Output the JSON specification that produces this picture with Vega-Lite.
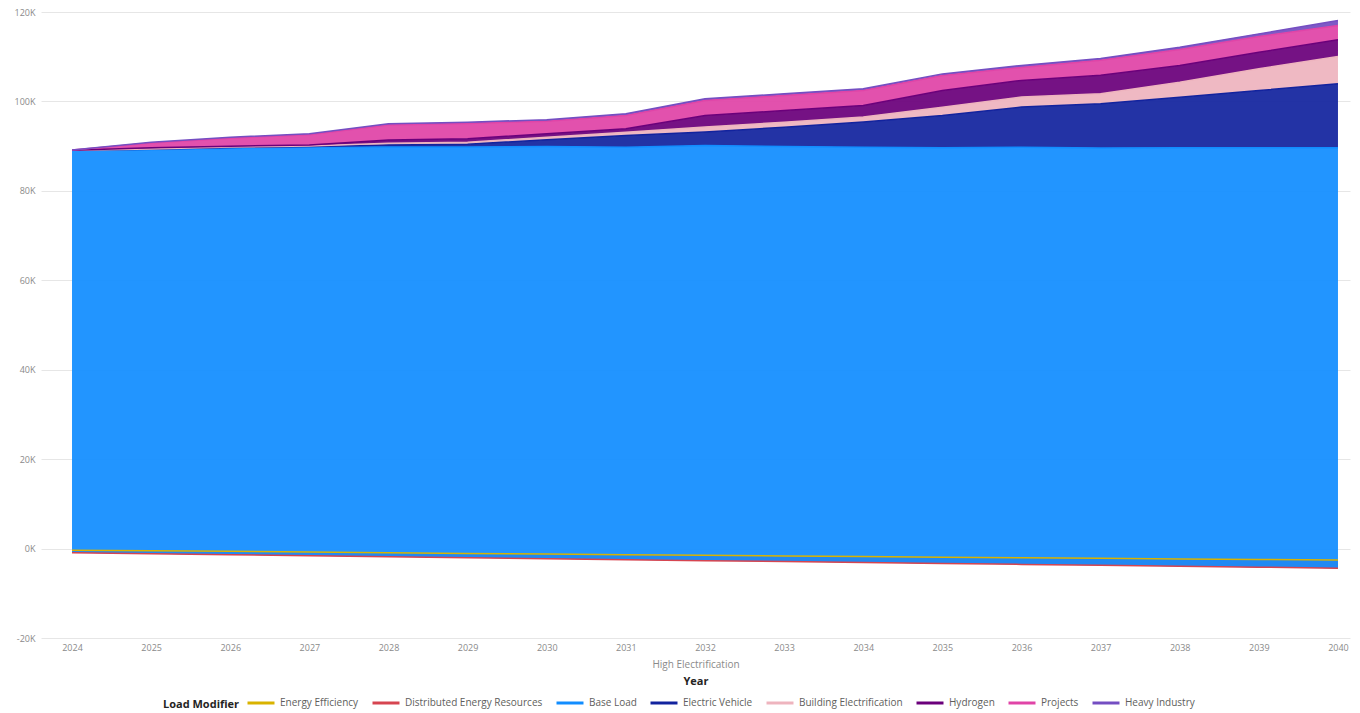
{
  "$schema": "https://vega.github.io/schema/vega-lite/v6.json",
  "width": 1309,
  "height": 626,
  "autosize": {"type": "none"},
  "padding": {"left": 41, "top": 12, "right": 10, "bottom": 75},
  "background": "#ffffff",
  "config": {
    "view": {"stroke": null},
    "font": "Open Sans"
  },
  "data": {
    "values": [
      {"Year": 2024, "Load Modifier": "Energy Efficiency", "Load": -350},
      {"Year": 2025, "Load Modifier": "Energy Efficiency", "Load": -490},
      {"Year": 2026, "Load Modifier": "Energy Efficiency", "Load": -620},
      {"Year": 2027, "Load Modifier": "Energy Efficiency", "Load": -770},
      {"Year": 2028, "Load Modifier": "Energy Efficiency", "Load": -930},
      {"Year": 2029, "Load Modifier": "Energy Efficiency", "Load": -1080},
      {"Year": 2030, "Load Modifier": "Energy Efficiency", "Load": -1220},
      {"Year": 2031, "Load Modifier": "Energy Efficiency", "Load": -1370},
      {"Year": 2032, "Load Modifier": "Energy Efficiency", "Load": -1500},
      {"Year": 2033, "Load Modifier": "Energy Efficiency", "Load": -1640},
      {"Year": 2034, "Load Modifier": "Energy Efficiency", "Load": -1780},
      {"Year": 2035, "Load Modifier": "Energy Efficiency", "Load": -1920},
      {"Year": 2036, "Load Modifier": "Energy Efficiency", "Load": -2050},
      {"Year": 2037, "Load Modifier": "Energy Efficiency", "Load": -2180},
      {"Year": 2038, "Load Modifier": "Energy Efficiency", "Load": -2320},
      {"Year": 2039, "Load Modifier": "Energy Efficiency", "Load": -2450},
      {"Year": 2040, "Load Modifier": "Energy Efficiency", "Load": -2580},

      {"Year": 2024, "Load Modifier": "Distributed Energy Resources", "Load": -600},
      {"Year": 2025, "Load Modifier": "Distributed Energy Resources", "Load": -680},
      {"Year": 2026, "Load Modifier": "Distributed Energy Resources", "Load": -760},
      {"Year": 2027, "Load Modifier": "Distributed Energy Resources", "Load": -830},
      {"Year": 2028, "Load Modifier": "Distributed Energy Resources", "Load": -910},
      {"Year": 2029, "Load Modifier": "Distributed Energy Resources", "Load": -970},
      {"Year": 2030, "Load Modifier": "Distributed Energy Resources", "Load": -1060},
      {"Year": 2031, "Load Modifier": "Distributed Energy Resources", "Load": -1120},
      {"Year": 2032, "Load Modifier": "Distributed Energy Resources", "Load": -1200},
      {"Year": 2033, "Load Modifier": "Distributed Energy Resources", "Load": -1270},
      {"Year": 2034, "Load Modifier": "Distributed Energy Resources", "Load": -1340},
      {"Year": 2035, "Load Modifier": "Distributed Energy Resources", "Load": -1420},
      {"Year": 2036, "Load Modifier": "Distributed Energy Resources", "Load": -1490},
      {"Year": 2037, "Load Modifier": "Distributed Energy Resources", "Load": -1570},
      {"Year": 2038, "Load Modifier": "Distributed Energy Resources", "Load": -1640},
      {"Year": 2039, "Load Modifier": "Distributed Energy Resources", "Load": -1720},
      {"Year": 2040, "Load Modifier": "Distributed Energy Resources", "Load": -1800},

      {"Year": 2024, "Load Modifier": "Base Load", "Load": 90040},
      {"Year": 2025, "Load Modifier": "Base Load", "Load": 90360},
      {"Year": 2026, "Load Modifier": "Base Load", "Load": 90930},
      {"Year": 2027, "Load Modifier": "Base Load", "Load": 91380},
      {"Year": 2028, "Load Modifier": "Base Load", "Load": 91660},
      {"Year": 2029, "Load Modifier": "Base Load", "Load": 91870},
      {"Year": 2030, "Load Modifier": "Base Load", "Load": 92210},
      {"Year": 2031, "Load Modifier": "Base Load", "Load": 92270},
      {"Year": 2032, "Load Modifier": "Base Load", "Load": 92860},
      {"Year": 2033, "Load Modifier": "Base Load", "Load": 92840},
      {"Year": 2034, "Load Modifier": "Base Load", "Load": 92900},
      {"Year": 2035, "Load Modifier": "Base Load", "Load": 92980},
      {"Year": 2036, "Load Modifier": "Base Load", "Load": 93320},
      {"Year": 2037, "Load Modifier": "Base Load", "Load": 93350},
      {"Year": 2038, "Load Modifier": "Base Load", "Load": 93600},
      {"Year": 2039, "Load Modifier": "Base Load", "Load": 93810},
      {"Year": 2040, "Load Modifier": "Base Load", "Load": 94020},

      {"Year": 2024, "Load Modifier": "Electric Vehicle", "Load": 0},
      {"Year": 2025, "Load Modifier": "Electric Vehicle", "Load": 100},
      {"Year": 2026, "Load Modifier": "Electric Vehicle", "Load": 160},
      {"Year": 2027, "Load Modifier": "Electric Vehicle", "Load": 160},
      {"Year": 2028, "Load Modifier": "Electric Vehicle", "Load": 450},
      {"Year": 2029, "Load Modifier": "Electric Vehicle", "Load": 600},
      {"Year": 2030, "Load Modifier": "Electric Vehicle", "Load": 1500},
      {"Year": 2031, "Load Modifier": "Electric Vehicle", "Load": 2600},
      {"Year": 2032, "Load Modifier": "Electric Vehicle", "Load": 2980},
      {"Year": 2033, "Load Modifier": "Electric Vehicle", "Load": 4320},
      {"Year": 2034, "Load Modifier": "Electric Vehicle", "Load": 5600},
      {"Year": 2035, "Load Modifier": "Electric Vehicle", "Load": 7200},
      {"Year": 2036, "Load Modifier": "Electric Vehicle", "Load": 8950},
      {"Year": 2037, "Load Modifier": "Electric Vehicle", "Load": 9900},
      {"Year": 2038, "Load Modifier": "Electric Vehicle", "Load": 11300},
      {"Year": 2039, "Load Modifier": "Electric Vehicle", "Load": 12800},
      {"Year": 2040, "Load Modifier": "Electric Vehicle", "Load": 14300},

      {"Year": 2024, "Load Modifier": "Building Electrification", "Load": 0},
      {"Year": 2025, "Load Modifier": "Building Electrification", "Load": 70},
      {"Year": 2026, "Load Modifier": "Building Electrification", "Load": 90},
      {"Year": 2027, "Load Modifier": "Building Electrification", "Load": 90},
      {"Year": 2028, "Load Modifier": "Building Electrification", "Load": 380},
      {"Year": 2029, "Load Modifier": "Building Electrification", "Load": 450},
      {"Year": 2030, "Load Modifier": "Building Electrification", "Load": 580},
      {"Year": 2031, "Load Modifier": "Building Electrification", "Load": 750},
      {"Year": 2032, "Load Modifier": "Building Electrification", "Load": 1120},
      {"Year": 2033, "Load Modifier": "Building Electrification", "Load": 1120},
      {"Year": 2034, "Load Modifier": "Building Electrification", "Load": 1120},
      {"Year": 2035, "Load Modifier": "Building Electrification", "Load": 1860},
      {"Year": 2036, "Load Modifier": "Building Electrification", "Load": 2240},
      {"Year": 2037, "Load Modifier": "Building Electrification", "Load": 2240},
      {"Year": 2038, "Load Modifier": "Building Electrification", "Load": 3360},
      {"Year": 2039, "Load Modifier": "Building Electrification", "Load": 4850},
      {"Year": 2040, "Load Modifier": "Building Electrification", "Load": 6100},

      {"Year": 2024, "Load Modifier": "Hydrogen", "Load": 0},
      {"Year": 2025, "Load Modifier": "Hydrogen", "Load": 270},
      {"Year": 2026, "Load Modifier": "Hydrogen", "Load": 200},
      {"Year": 2027, "Load Modifier": "Hydrogen", "Load": 220},
      {"Year": 2028, "Load Modifier": "Hydrogen", "Load": 740},
      {"Year": 2029, "Load Modifier": "Hydrogen", "Load": 800},
      {"Year": 2030, "Load Modifier": "Hydrogen", "Load": 760},
      {"Year": 2031, "Load Modifier": "Hydrogen", "Load": 750},
      {"Year": 2032, "Load Modifier": "Hydrogen", "Load": 2600},
      {"Year": 2033, "Load Modifier": "Hydrogen", "Load": 2600},
      {"Year": 2034, "Load Modifier": "Hydrogen", "Load": 2600},
      {"Year": 2035, "Load Modifier": "Hydrogen", "Load": 3730},
      {"Year": 2036, "Load Modifier": "Hydrogen", "Load": 3730},
      {"Year": 2037, "Load Modifier": "Hydrogen", "Load": 4100},
      {"Year": 2038, "Load Modifier": "Hydrogen", "Load": 3730},
      {"Year": 2039, "Load Modifier": "Hydrogen", "Load": 3710},
      {"Year": 2040, "Load Modifier": "Hydrogen", "Load": 3730},

      {"Year": 2024, "Load Modifier": "Projects", "Load": 40},
      {"Year": 2025, "Load Modifier": "Projects", "Load": 1070},
      {"Year": 2026, "Load Modifier": "Projects", "Load": 1790},
      {"Year": 2027, "Load Modifier": "Projects", "Load": 2300},
      {"Year": 2028, "Load Modifier": "Projects", "Load": 3360},
      {"Year": 2029, "Load Modifier": "Projects", "Load": 3400},
      {"Year": 2030, "Load Modifier": "Projects", "Load": 2820},
      {"Year": 2031, "Load Modifier": "Projects", "Load": 2980},
      {"Year": 2032, "Load Modifier": "Projects", "Load": 3360},
      {"Year": 2033, "Load Modifier": "Projects", "Load": 3360},
      {"Year": 2034, "Load Modifier": "Projects", "Load": 3360},
      {"Year": 2035, "Load Modifier": "Projects", "Load": 3360},
      {"Year": 2036, "Load Modifier": "Projects", "Load": 2900},
      {"Year": 2037, "Load Modifier": "Projects", "Load": 3360},
      {"Year": 2038, "Load Modifier": "Projects", "Load": 3580},
      {"Year": 2039, "Load Modifier": "Projects", "Load": 3510},
      {"Year": 2040, "Load Modifier": "Projects", "Load": 3200},

      {"Year": 2024, "Load Modifier": "Heavy Industry", "Load": 30},
      {"Year": 2025, "Load Modifier": "Heavy Industry", "Load": 180},
      {"Year": 2026, "Load Modifier": "Heavy Industry", "Load": 220},
      {"Year": 2027, "Load Modifier": "Heavy Industry", "Load": 220},
      {"Year": 2028, "Load Modifier": "Heavy Industry", "Load": 270},
      {"Year": 2029, "Load Modifier": "Heavy Industry", "Load": 300},
      {"Year": 2030, "Load Modifier": "Heavy Industry", "Load": 310},
      {"Year": 2031, "Load Modifier": "Heavy Industry", "Load": 370},
      {"Year": 2032, "Load Modifier": "Heavy Industry", "Load": 370},
      {"Year": 2033, "Load Modifier": "Heavy Industry", "Load": 370},
      {"Year": 2034, "Load Modifier": "Heavy Industry", "Load": 370},
      {"Year": 2035, "Load Modifier": "Heavy Industry", "Load": 370},
      {"Year": 2036, "Load Modifier": "Heavy Industry", "Load": 450},
      {"Year": 2037, "Load Modifier": "Heavy Industry", "Load": 380},
      {"Year": 2038, "Load Modifier": "Heavy Industry", "Load": 510},
      {"Year": 2039, "Load Modifier": "Heavy Industry", "Load": 600},
      {"Year": 2040, "Load Modifier": "Heavy Industry", "Load": 1120}
    ]
  },
  "transform": [
    {"window": [{"op": "sum", "field": "Load", "as": "stackTop"}], "groupby": ["Year"], "frame": [null, 0]},
    {"window": [{"op": "sum", "field": "Load", "as": "stackBase"}], "groupby": ["Year"], "frame": [null, -1]}
  ],
  "encoding": {
    "color": {
      "field": "Load Modifier",
      "type": "nominal",
      "scale": {
        "domain": ["Energy Efficiency", "Distributed Energy Resources", "Base Load", "Electric Vehicle", "Building Electrification", "Hydrogen", "Projects", "Heavy Industry"],
        "range": ["#D9B300", "#D64550", "#118DFF", "#12239E", "#EEB4BE", "#6B007B", "#E044A7", "#744EC2"]
      },
      "legend": {
        "orient": "none",
        "legendX": 122,
        "legendY": 676,
        "direction": "horizontal",
        "title": "Load Modifier",
        "titleOrient": "left",
        "titleAnchor": "middle",
        "titleBaseline": "top",
        "titleFontSize": 11,
        "titleFontWeight": "bold",
        "titleColor": "#252423",
        "titlePadding": 6,
        "labelFontSize": 10,
        "labelColor": "#605E5C",
        "labelOffset": 4,
        "columnPadding": 7,
        "symbolType": "stroke",
        "symbolSize": 729,
        "symbolStrokeWidth": 3
      }
    }
  },
  "layer": [
    {
      "mark": {"type": "area", "fillOpacity": 0.93, "strokeWidth": 0},
      "encoding": {
        "x": {
          "field": "Year",
          "type": "quantitative",
          "scale": {"domain": [2023.608, 2040.152], "nice": false, "zero": false},
          "axis": {
            "orient": "bottom",
            "values": [2024, 2025, 2026, 2027, 2028, 2029, 2030, 2031, 2032, 2033, 2034, 2035, 2036, 2037, 2038, 2039, 2040],
            "format": "d",
            "grid": false,
            "domain": false,
            "ticks": false,
            "labelFlush": false,
            "labelFontSize": 9,
            "labelColor": "#8A8A8A",
            "labelPadding": 5,
            "title": "High Electrification",
            "titleFontSize": 10,
            "titleFontWeight": "normal",
            "titleColor": "#8A8A8A",
            "titlePadding": 7
          }
        },
        "y": {
          "field": "stackTop",
          "type": "quantitative",
          "stack": null,
          "scale": {"domain": [-20000, 120000], "nice": false},
          "axis": {
            "values": [-20000, 0, 20000, 40000, 60000, 80000, 100000, 120000],
            "labelExpr": "(datum.value / 1000) + 'K'",
            "grid": true,
            "gridColor": "#E6E6E6",
            "gridWidth": 1,
            "domain": false,
            "ticks": false,
            "labelFontSize": 9,
            "labelColor": "#8A8A8A",
            "labelPadding": 6,
            "title": null
          }
        },
        "y2": {"field": "stackBase"}
      }
    },
    {
      "mark": {"type": "line", "strokeWidth": 1.5},
      "encoding": {
        "x": {
          "field": "Year",
          "type": "quantitative",
          "axis": {
            "orient": "bottom",
            "labels": false,
            "ticks": false,
            "domain": false,
            "grid": false,
            "title": "Year",
            "titleFontSize": 11,
            "titleFontWeight": "bold",
            "titleColor": "#252423",
            "titlePadding": 37
          }
        },
        "y": {"field": "stackTop", "type": "quantitative", "stack": null}
      }
    }
  ],
  "resolve": {"axis": {"x": "independent"}}
}
